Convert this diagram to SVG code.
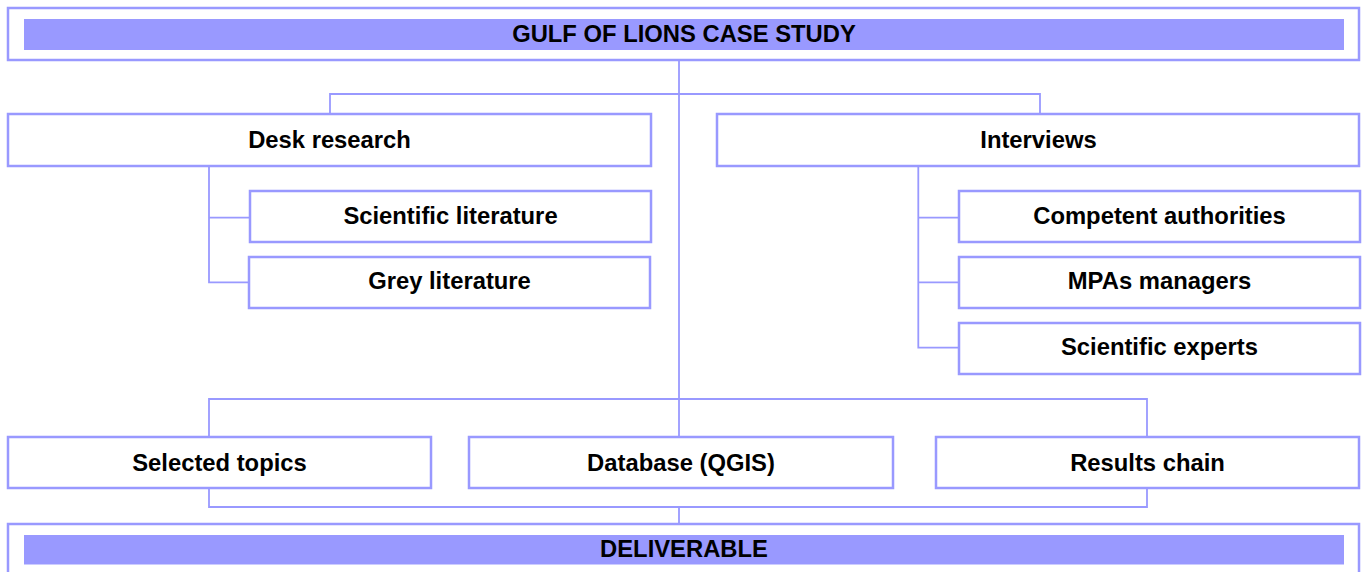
<svg xmlns="http://www.w3.org/2000/svg" width="1364" height="572" viewBox="0 0 1364 572">
<style>
.box{fill:#ffffff;stroke:#9999ff;stroke-width:2.5}
.band{fill:#9999ff;stroke:none}
.lbl{font-family:"Liberation Sans",Arial,sans-serif;font-weight:bold;font-size:23.8px;fill:#000000;text-anchor:middle}
.con{fill:none;stroke:#9999ff;stroke-width:1.8}
</style>
<rect width="1364" height="572" fill="#ffffff"/>
<g id="connectors">
<path class="con" d="M679,60 V437"/>
<path class="con" d="M330,114 V94 H1040 V114"/>
<path class="con" d="M209,166 V282.3 H249 M209,217.7 H250"/>
<path class="con" d="M918.3,166 V347.7 H959 M918.3,217.7 H959 M918.3,282.3 H959"/>
<path class="con" d="M209,437 V399 H1147 V437"/>
<path class="con" d="M209,488 V507 H1147 V488 M679,507 V524"/>
</g>
<g id="title">
<rect class="box" x="8" y="8" width="1351" height="52"/>
<rect class="band" x="24" y="19" width="1320" height="31"/>
<text class="lbl" x="684" y="41.5">GULF OF LIONS CASE STUDY</text>
</g>
<g id="desk">
<rect class="box" x="8" y="114" width="643" height="52"/>
<text class="lbl" x="329.5" y="148">Desk research</text>
</g>
<g id="interviews">
<rect class="box" x="717" y="114" width="642" height="52"/>
<text class="lbl" x="1038.5" y="148">Interviews</text>
</g>
<g id="scilit">
<rect class="box" x="250" y="191" width="401" height="51"/>
<text class="lbl" x="450.5" y="223.5">Scientific literature</text>
</g>
<g id="greylit">
<rect class="box" x="249" y="257" width="401" height="51"/>
<text class="lbl" x="449.5" y="289">Grey literature</text>
</g>
<g id="authorities">
<rect class="box" x="959" y="191" width="401" height="51"/>
<text class="lbl" x="1159.5" y="223.5">Competent authorities</text>
</g>
<g id="mpas">
<rect class="box" x="959" y="257" width="401" height="51"/>
<text class="lbl" x="1159.5" y="289">MPAs managers</text>
</g>
<g id="experts">
<rect class="box" x="959" y="323" width="401" height="51"/>
<text class="lbl" x="1159.5" y="355">Scientific experts</text>
</g>
<g id="topics">
<rect class="box" x="8" y="437" width="423" height="51"/>
<text class="lbl" x="219.5" y="470.5">Selected topics</text>
</g>
<g id="database">
<rect class="box" x="469" y="437" width="424" height="51"/>
<text class="lbl" x="681" y="470.5">Database (QGIS)</text>
</g>
<g id="results">
<rect class="box" x="936" y="437" width="423" height="51"/>
<text class="lbl" x="1147.5" y="470.5">Results chain</text>
</g>
<g id="deliverable">
<rect class="box" x="8" y="524" width="1351" height="60"/>
<rect class="band" x="24" y="535" width="1320" height="29.5"/>
<text class="lbl" x="684" y="557">DELIVERABLE</text>
</g>
</svg>
